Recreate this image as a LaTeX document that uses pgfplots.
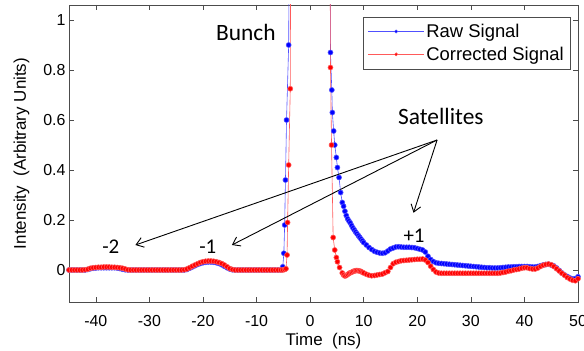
\documentclass[border=0pt]{standalone}
\usepackage{pgfplots}
\pgfplotsset{compat=1.18}
\usepackage{pgfplotstable}
\usepackage{fontspec}
\setmainfont{Liberation Sans}
\newfontfamily\calfont{Carlito}
\usetikzlibrary{arrows.meta}
\definecolor{rawline}{RGB}{80,80,255}
\definecolor{rawmark}{RGB}{0,0,255}
\definecolor{corline}{RGB}{255,90,90}
\definecolor{cormark}{RGB}{255,0,0}

\pgfplotstableread{
x raw corr
-45 0 0
-44.5 0 0
-44 0 0
-43.5 0 0
-43 0 0
-42.5 0 0
-42 0 0.001
-41.5 0.002 0.003
-41 0.005 0.007
-40.5 0.007 0.009
-40 0.008 0.010
-39.5 0.009 0.011
-39 0.009 0.011
-38.5 0.009 0.012
-38 0.009 0.012
-37.5 0.009 0.012
-37 0.009 0.011
-36.5 0.009 0.011
-36 0.008 0.010
-35.5 0.006 0.009
-35 0.003 0.007
-34.5 0.001 0.004
-34 0 0.001
-33.5 0 0
-33 0 0
-32.5 0 0
-32 0 0
-31.5 0 0
-31 0 0
-30.5 0 0
-30 0 0
-29.5 0 0
-29 0 0
-28.5 0 0
-28 0 0
-27.5 0 0
-27 0 0
-26.5 0 0
-26 0 0
-25.5 0 0
-25 0 0
-24.5 0 0
-24 0 0
-23.5 0 0.001
-23 0.002 0.004
-22.5 0.007 0.009
-22 0.012 0.015
-21.5 0.017 0.020
-21 0.022 0.025
-20.5 0.026 0.030
-20 0.029 0.033
-19.5 0.031 0.035
-19 0.032 0.036
-18.5 0.032 0.036
-18 0.031 0.035
-17.5 0.029 0.033
-17 0.026 0.030
-16.5 0.021 0.026
-16 0.015 0.020
-15.5 0.009 0.013
-15 0.004 0.006
-14.5 0.001 0.002
-14 0 0
-13.5 0 0
-13 0 0
-12.5 0 0
-12 0 0
-11.5 0 0
-11 0 0
-10.5 0 0
-10 0 0
-9.5 0 0
-9 0 0
-8.5 0 0
-8 0 0
-7.5 0 0
-7 0 0
-6.5 0 0
-6 0 0
-5.5 0 0
-5.1 0.013 0
-4.9 0.067 nan
-4.75 0.18 0.002
-4.6 0.36 nan
-4.5 nan 0.005
-4.4 0.6 nan
-4.3 nan 0.06
-4.2 nan 0.19
-4.0 0.9 0.42
-3.7 nan 0.725
-3.5 3 nan
-3.4 nan 3
0 6 6
3.5 nan 3
3.6 3 nan
3.8 0.87 0.81
4.0 nan 0.5
4.05 0.72 nan
4.15 0.63 nan
4.3 nan 0.13
4.4 0.556 nan
4.6 0.50 0.08
4.9 0.45 0.05
5.1 0.41 0.033
5.4 0.37 nan
5.5 nan 0.01
5.7 0.31 nan
6.0 0.27 -0.012
6.25 0.255 -0.02
6.5 0.235 -0.024
6.75 0.218 -0.022
7.0 0.205 -0.018
7.25 0.196 -0.014
7.5 0.188 -0.011
7.75 0.178 -0.009
8.0 0.168 -0.006
8.25 0.160 -0.004
8.5 0.152 -0.003
8.75 0.145 -0.002
9.0 0.138 -0.003
9.25 0.131 -0.004
9.5 0.124 -0.006
9.75 0.117 -0.009
10.0 0.110 -0.012
10.5 0.100 -0.017
11.0 0.090 -0.021
11.5 0.082 -0.023
12.0 0.075 -0.022
12.5 0.071 -0.020
13.0 0.068 -0.018
13.5 0.067 -0.016
14.0 0.069 -0.011
14.5 0.076 -0.006
15.0 0.084 0.010
15.5 0.088 0.025
16.0 0.092 0.031
16.5 0.093 0.034
17.0 0.092 0.037
17.5 0.091 0.038
18.0 0.091 0.039
18.5 0.091 0.040
19.0 0.090 0.041
19.5 0.089 0.042
20.0 0.086 0.043
20.5 0.083 0.043
21.0 0.080 0.044
21.5 0.072 0.040
22.0 0.055 0.030
22.5 0.042 0.015
23.0 0.034 0.002
23.5 0.029 -0.008
24.0 0.027 -0.012
24.5 0.026 -0.013
25.0 0.025 -0.013
25.5 0.024 -0.013
26.0 0.023 -0.013
26.5 0.022 -0.013
27.0 0.021 -0.013
27.5 0.020 -0.013
28.0 0.019 -0.013
28.5 0.018 -0.013
29.0 0.017 -0.013
29.5 0.016 -0.013
30.0 0.015 -0.013
30.5 0.014 -0.013
31.0 0.013 -0.013
31.5 0.012 -0.013
32.0 0.011 -0.013
32.5 0.010 -0.013
33.0 0.009 -0.013
33.5 0.009 -0.013
34.0 0.008 -0.013
34.5 0.008 -0.013
35.0 0.008 -0.013
35.5 0.009 -0.012
36.0 0.010 -0.010
36.5 0.011 -0.008
37.0 0.012 -0.005
37.5 0.012 -0.003
38.0 0.013 0.000
38.5 0.013 0.002
39.0 0.014 0.004
39.5 0.014 0.007
40.0 0.014 0.009
40.5 0.014 0.009
41.0 0.013 0.006
41.5 0.012 0.004
42.0 0.012 0.004
42.5 0.014 0.008
43.0 0.017 0.014
43.5 0.020 0.019
44.0 0.022 0.022
44.5 0.023 0.024
45.0 0.020 0.021
45.5 0.016 0.014
46.0 0.008 0.005
46.5 -0.002 -0.004
47.0 -0.012 -0.013
47.5 -0.020 -0.021
48.0 -0.026 -0.030
48.5 -0.032 -0.036
49.0 -0.036 -0.041
49.5 -0.034 -0.043
50.0 -0.027 -0.035
}\data

\begin{document}
\begin{tikzpicture}
\begin{axis}[
  scale only axis, width=509bp, height=297bp,
  xmin=-45, xmax=50, ymin=-0.128, ymax=1.06,
  xtick={-40,-30,-20,-10,0,10,20,30,40,50},
  ytick={0,0.2,0.4,0.6,0.8,1},
  tick align=inside, major tick length=5bp,
  axis line style={black!70},
  every tick/.style={black!70, line width=0.5bp},
  tick label style={font=\fontsize{16}{18}\selectfont},
  /pgf/number format/assume math mode=true,
  xticklabel style={anchor=base, yshift=-24bp},
  xlabel={Time\ \ (ns)},
  ylabel={Intensity\ \ (Arbitrary Units)},
  label style={font=\fontsize{17}{19}\selectfont},
  xlabel style={at={(axis description cs:0.5,-0.148)}, anchor=base},
  ylabel style={at={(axis description cs:-0.0845,0.5)}, anchor=base, rotate=0},
  legend style={at={(0.986,0.96)}, anchor=north east, draw=black!70,
    font=\fontsize{18.5}{21}\selectfont, inner xsep=5bp, inner ysep=5bp,
    row sep=4bp},
  legend cell align=left,
  legend image code/.code={\draw[#1, mark repeat=2, mark phase=2] plot coordinates {(0bp,0bp) (28bp,0bp) (56bp,0bp)};},
  legend image post style={mark size=1.6, line width=0.5bp},
]
\addplot[color=rawline, line width=0.6bp, mark=*, mark size=2.5,
  mark options={draw=none, fill=rawmark}] table[x=x, y=raw] {\data};
\addlegendentry{Raw Signal}
\addplot[color=corline, line width=0.6bp, mark=*, mark size=2.5,
  mark options={draw=none, fill=cormark}] table[x=x, y=corr] {\data};
\addlegendentry{Corrected Signal}

\node[font=\calfont\fontsize{23.5}{26}\selectfont, anchor=base] at (axis cs:-12.0,0.92) {Bunch};
\node[font=\calfont\fontsize{23.5}{26}\selectfont, anchor=base] at (axis cs:24.4,0.58) {Satellites};
\node[font=\calfont\fontsize{21}{24}\selectfont, anchor=base] at (axis cs:-37.2,0.067) {-2};
\node[font=\calfont\fontsize{21}{24}\selectfont, anchor=base] at (axis cs:-19.1,0.067) {-1};
\node[font=\calfont\fontsize{21}{24}\selectfont, anchor=base] at (axis cs:19.4,0.109) {+1};
\draw[line width=0.9bp, -{Straight Barb[length=7bp,width=10bp]}] (axis cs:23.7,0.52) -- (axis cs:-32.6,0.10);
\draw[line width=0.9bp, -{Straight Barb[length=7bp,width=10bp]}] (axis cs:23.7,0.52) -- (axis cs:-14.6,0.10);
\draw[line width=0.9bp, -{Straight Barb[length=7bp,width=10bp]}] (axis cs:23.7,0.52) -- (axis cs:19.3,0.229);
\end{axis}
\pgfresetboundingbox
\path[use as bounding box] (current axis.south west) ++(-69bp,-49bp) rectangle ++(584bp,351bp);
\end{tikzpicture}
\end{document}
